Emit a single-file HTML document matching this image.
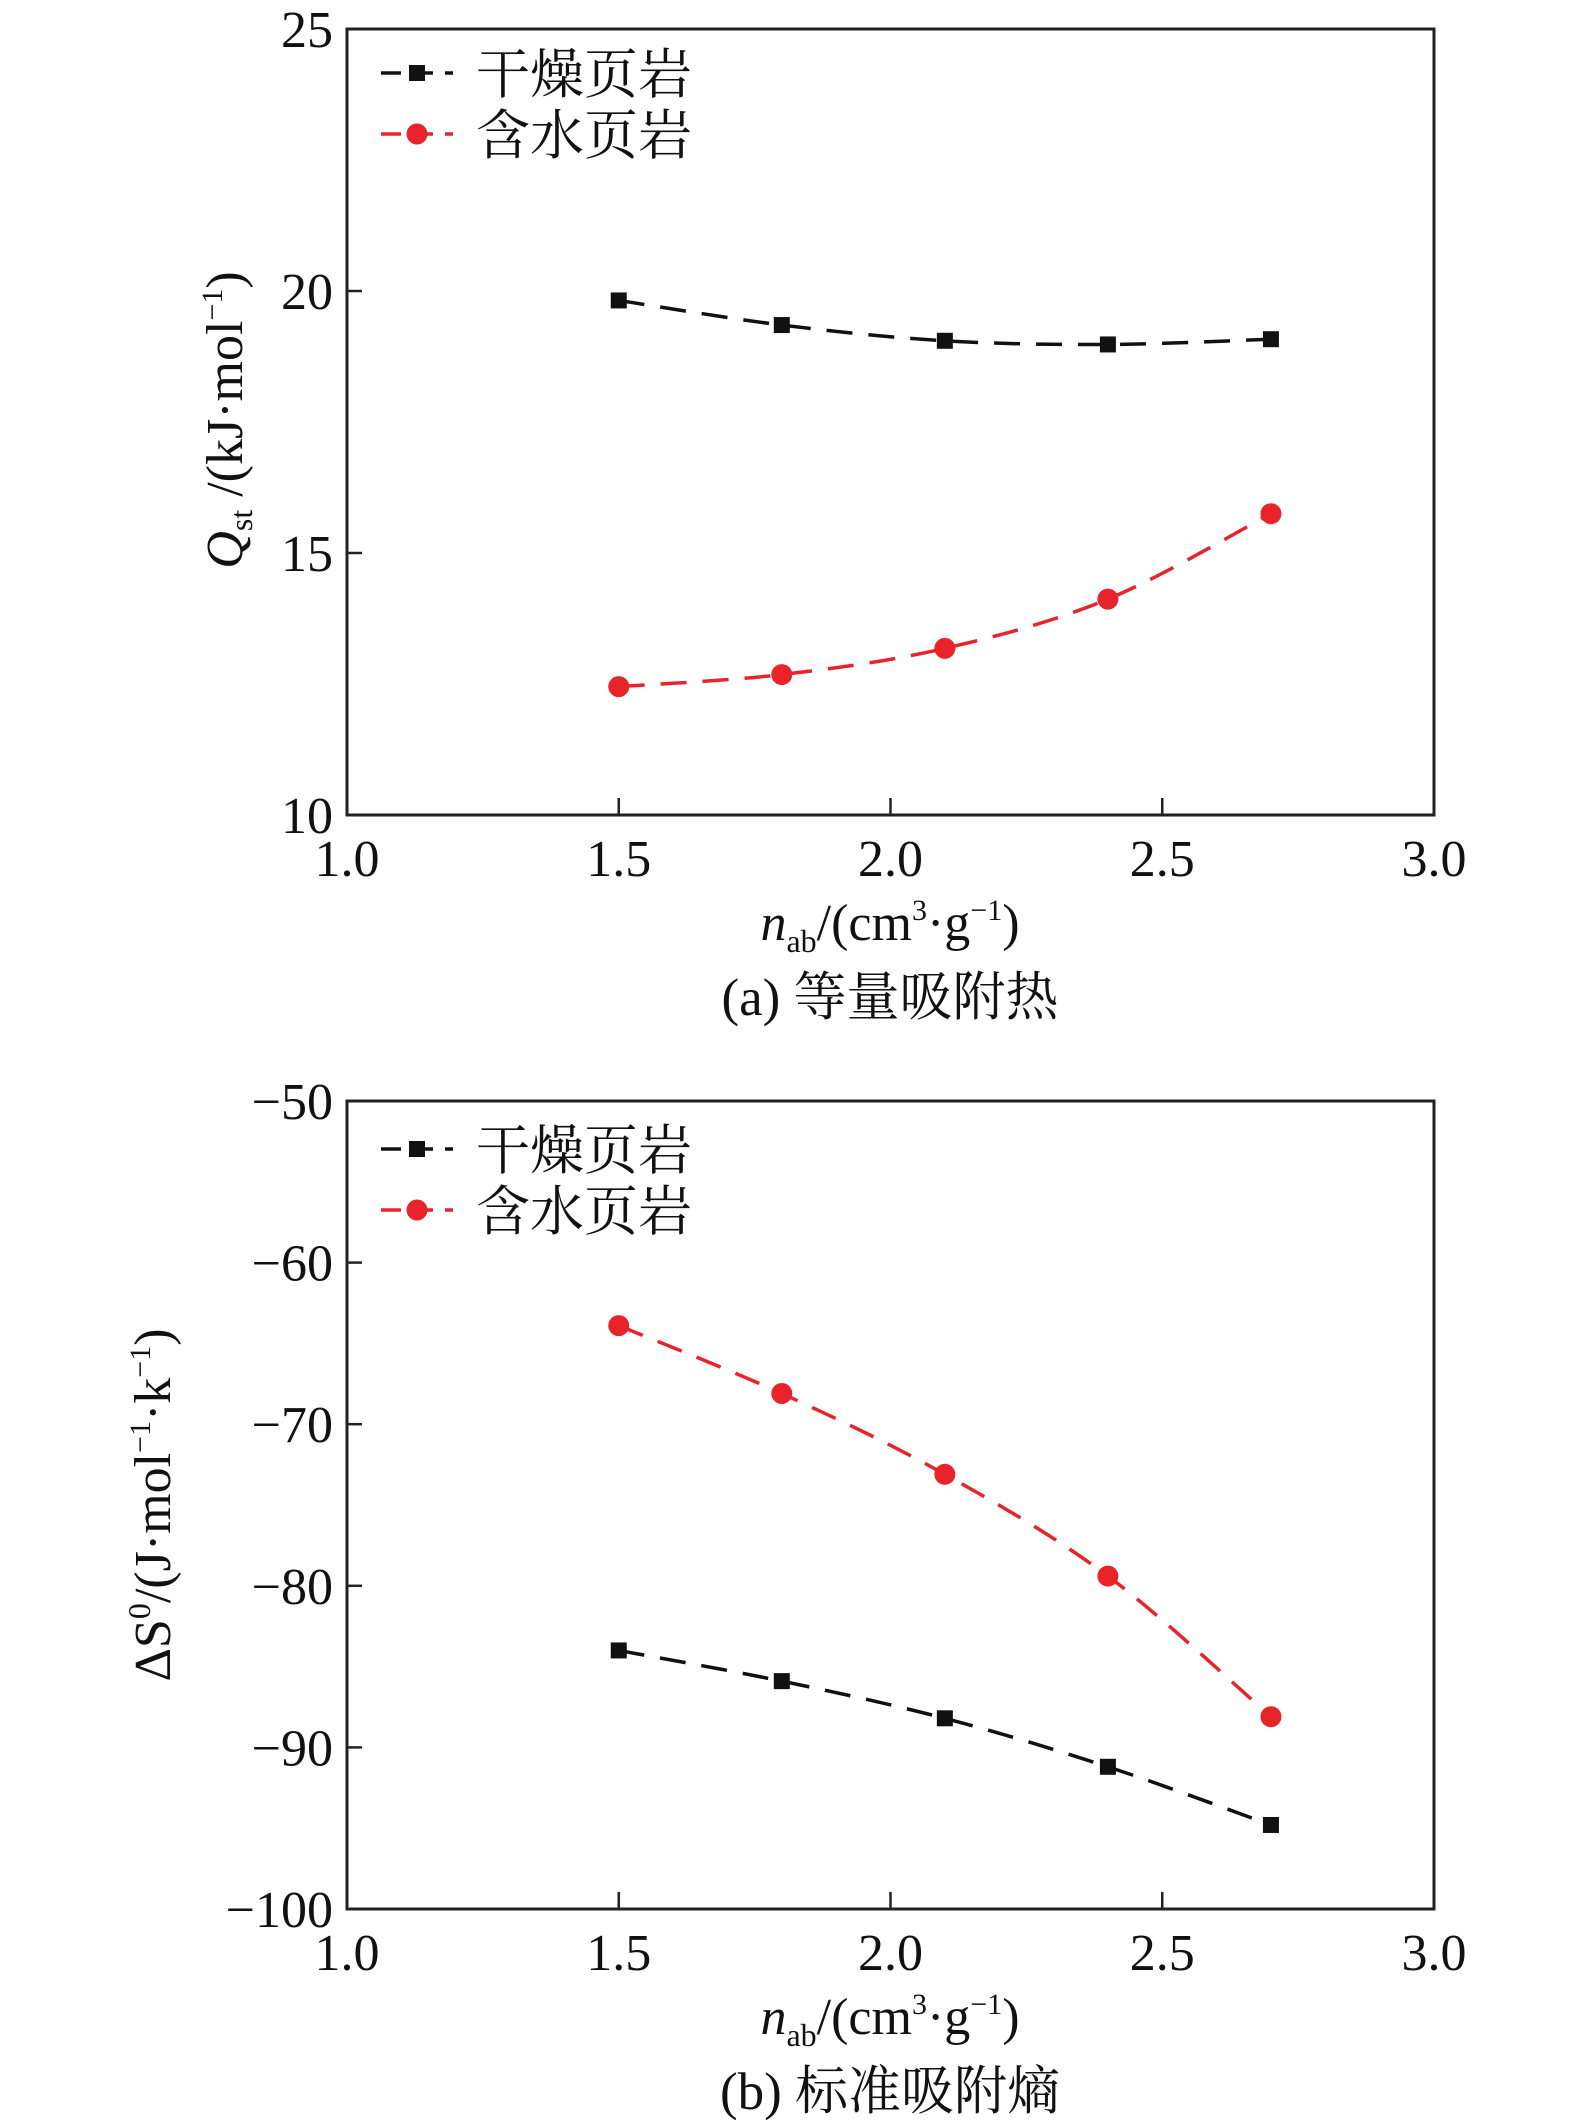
<!DOCTYPE html>
<html><head><meta charset="utf-8"><style>
html,body{margin:0;padding:0;background:#fff;}
svg{display:block;}
text{font-family:"Liberation Serif","Noto Serif CJK SC",serif;fill:#111;}
.cjk{font-family:"Liberation Serif","Noto Serif CJK SC","Noto Sans CJK SC",serif;}
</style></head><body>
<svg id="chart" width="1575" height="2121" viewBox="0 0 1575 2121" xmlns="http://www.w3.org/2000/svg"></svg>
<script>
const xValues=[1.5,1.8,2.1,2.4,2.7];
const xTicks=[1.0,1.5,2.0,2.5,3.0];
const xTickLabels=["1.0","1.5","2.0","2.5","3.0"];
const aDry=[19.82,19.35,19.05,18.98,19.08];
const aWet=[12.45,12.68,13.18,14.12,15.75];
const aTicks=[10,15,20,25];
const aTickLabels=["10","15","20","25"];
const bDry=[-84.0,-85.9,-88.2,-91.2,-94.8];
const bWet=[-63.9,-68.1,-73.1,-79.4,-88.1];
const bTicks=[-100,-90,-80,-70,-60,-50];
const bTickLabels=["\u2212100","\u221290","\u221280","\u221270","\u221260","\u221250"];
const seriesNames=["干燥页岩","含水页岩"];

const NS="http://www.w3.org/2000/svg";
const svg=document.getElementById('chart');
function mk(tag,attrs,parent){const e=document.createElementNS(NS,tag);for(const k in attrs)e.setAttribute(k,attrs[k]);(parent||svg).appendChild(e);return e;}
function smooth(pts){let d=`M${pts[0][0]},${pts[0][1]}`;for(let i=0;i<pts.length-1;i++){const p0=pts[i-1]||pts[i],p1=pts[i],p2=pts[i+1],p3=pts[i+2]||p2;const c1=[p1[0]+(p2[0]-p0[0])/6,p1[1]+(p2[1]-p0[1])/6];const c2=[p2[0]-(p3[0]-p1[0])/6,p2[1]-(p3[1]-p1[1])/6];d+=` C${c1[0]},${c1[1]} ${c2[0]},${c2[1]} ${p2[0]},${p2[1]}`;}return d;}

function panel(cfg){
  const L=347,R=1434,T=cfg.top,B=cfg.bottom;
  const g=mk('g',{});
  
  
  const xs=v=>L+(v-1)/(3-1)*(R-L);
  const ys=v=>B-(v-cfg.ymin)/(cfg.ymax-cfg.ymin)*(B-T);
  const fr=mk('rect',{x:L,y:T,width:R-L,height:B-T,fill:'none',stroke:'#222','stroke-width':3},g);
  
  
  xTicks.forEach((v,i)=>{
    if(i>0&&i<xTicks.length-1){const t=mk('line',{x1:xs(v),x2:xs(v),y1:B,y2:B-17,stroke:'#222','stroke-width':2.5},g);
    
    }
    const tl=mk('text',{x:xs(v),y:B+61,'text-anchor':'middle','font-size':52},g);tl.textContent=xTickLabels[i];
    
    
  });
  cfg.ticks.forEach((v,i)=>{
    if(i>0&&i<cfg.ticks.length-1){const t=mk('line',{x1:L,x2:L+15,y1:ys(v),y2:ys(v),stroke:'#222','stroke-width':2.5},g);
    
    }
    const tl=mk('text',{x:L-14,y:ys(v)+18,'text-anchor':'end','font-size':52},g);tl.textContent=cfg.tickLabels[i];
    
    
  });
  const ser=[{vals:cfg.dry,color:'#111',shape:'sq'},{vals:cfg.wet,color:'#e8232a',shape:'ci'}];
  ser.forEach((s,si)=>{
    const pts=xValues.map((x,i)=>[xs(x),ys(s.vals[i])]);
    const p=mk('path',{d:smooth(pts),fill:'none',stroke:s.color,'stroke-width':3.5,'stroke-dasharray':'26,16'},g);
    
    
    pts.forEach(pt=>{
      let m;
      if(s.shape==='sq')m=mk('rect',{x:pt[0]-8,y:pt[1]-8,width:16,height:16,fill:s.color},g);
      else m=mk('circle',{cx:pt[0],cy:pt[1],r:10.5,fill:s.color},g);
      
      
    });
    const ly=cfg.legendY+si*61;
    const lg=mk('g',{},g);
    
    
    mk('line',{x1:381,x2:453,y1:ly,y2:ly,stroke:s.color,'stroke-width':3.5,'stroke-dasharray':'20,12'},lg);
    if(s.shape==='sq')mk('rect',{x:409,y:ly-8,width:16,height:16,fill:s.color},lg);
    else mk('circle',{cx:417,cy:ly,r:10.5,fill:s.color},lg);
    const t=mk('text',{x:476,y:ly+20,'font-size':54,'class':'cjk'},lg);t.textContent=seriesNames[si];
  });
  const xl=mk('text',{x:890,y:cfg.bottom+125,'text-anchor':'middle','font-size':52},g);
  xl.innerHTML='<tspan font-style="italic">n</tspan><tspan font-size="32" dy="12">ab</tspan><tspan dy="-12">/(cm</tspan><tspan font-size="30" dy="-20">3</tspan><tspan dy="20">·g</tspan><tspan font-size="30" dy="-20">−1</tspan><tspan dy="20">)</tspan>';
  
  
  const cap=mk('text',{x:890,y:cfg.bottom+200,'text-anchor':'middle','font-size':53,'class':'cjk'},g);cap.textContent=cfg.caption;
  
  
  const yl=mk('text',{transform:`translate(${cfg.ylx},${cfg.ylc}) rotate(-90)`,'text-anchor':'middle','font-size':52},g);
  yl.innerHTML=cfg.ylabel;
  
  
}
panel({name:'panel-a-heat',top:29,bottom:815,ymin:10,ymax:25,ticks:aTicks,tickLabels:aTickLabels,dry:aDry,wet:aWet,legendY:73,caption:'(a) 等量吸附热',ylx:242,ylc:420,
 ylabel:'<tspan font-style="italic">Q</tspan><tspan font-size="32" dy="10">st</tspan><tspan dy="-10"> /(kJ·mol</tspan><tspan font-size="30" dy="-20">−1</tspan><tspan dy="20">)</tspan>'});
panel({name:'panel-b-entropy',top:1101,bottom:1909,ymin:-100,ymax:-50,ticks:bTicks,tickLabels:bTickLabels,dry:bDry,wet:bWet,legendY:1149,caption:'(b) 标准吸附熵',ylx:170,ylc:1505,
 ylabel:'<tspan>ΔS</tspan><tspan font-size="32" dy="-20">0</tspan><tspan dy="20">/(J·mol</tspan><tspan font-size="30" dy="-20">−1</tspan><tspan dy="20">·k</tspan><tspan font-size="30" dy="-20">−1</tspan><tspan dy="20">)</tspan>'});
</script>
</body></html>
